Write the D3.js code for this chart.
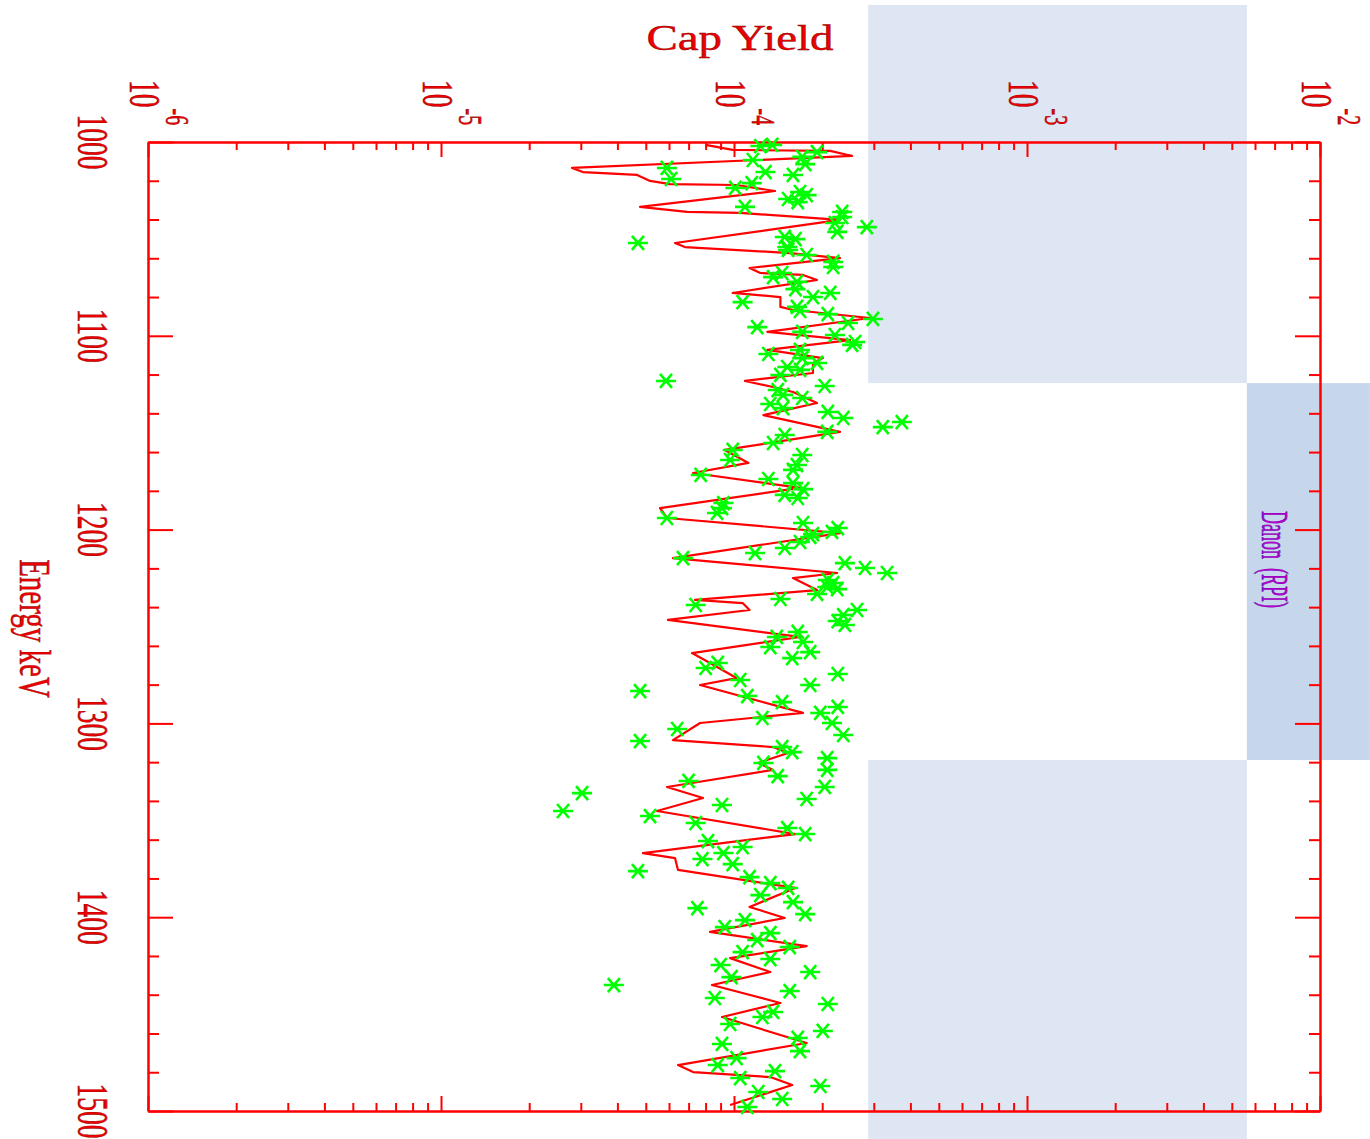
<!DOCTYPE html>
<html>
<head>
<meta charset="utf-8">
<script src="https://cdn.jsdelivr.net/npm/d3@7"></script>
<style>
  html, body { margin: 0; padding: 0; background: #ffffff; }
  svg { display: block; }
</style>
</head>
<body>
<svg id="chart" width="1370" height="1139"></svg>
<script>
// ---------------- data ----------------
const energyTicks = [1000, 1100, 1200, 1300, 1400, 1500];
const yieldTickExponents = [-6, -5, -4, -3, -2];

// Evaluated capture yield curve (red line)
const lineEnergy = [1001.5, 1004.1, 1004.6, 1007.2, 1013.4, 1015.5, 1017.0, 1020.1, 1021.7, 1022.2,
  1025.3, 1033.5, 1036.1, 1036.6, 1040.2, 1052.1, 1054.2, 1057.3, 1059.9, 1065.0,
  1067.6, 1068.6, 1071.2, 1077.9, 1080.0, 1085.1, 1086.7, 1090.8, 1098.0, 1102.2,
  1107.3, 1111.5, 1114.0, 1119.2, 1123.3, 1126.4, 1129.0, 1134.7, 1140.9, 1149.6,
  1158.9, 1165.6, 1170.8, 1178.5, 1188.9, 1194.0, 1201.8, 1214.7, 1222.4, 1225.0,
  1231.2, 1236.3, 1237.9, 1241.5, 1246.6, 1255.4, 1263.7, 1268.8, 1276.6, 1280.2,
  1294.6, 1299.8, 1308.6, 1312.2, 1315.3, 1320.4, 1324.0, 1332.8, 1338.5, 1345.2,
  1357.1, 1366.9, 1369.5, 1375.6, 1384.9, 1394.7, 1400.4, 1407.6, 1414.9, 1421.1,
  1428.3, 1435.0, 1444.3, 1451.5, 1464.9, 1476.3, 1479.9, 1482.5, 1486.6, 1496.9];
const lineYield = [0.80e-4, 0.99e-4, 2.13e-4, 2.53e-4, 0.280e-4, 0.305e-4, 0.467e-4, 0.517e-4, 0.605e-4, 1.02e-4,
  1.38e-4, 0.478e-4, 0.691e-4, 1.05e-4, 2.30e-4, 0.629e-4, 0.680e-4, 1.55e-4, 2.30e-4, 1.13e-4,
  1.23e-4, 1.72e-4, 1.92e-4, 0.99e-4, 1.44e-4, 1.44e-4, 1.59e-4, 2.91e-4, 1.30e-4, 2.49e-4,
  1.30e-4, 2.01e-4, 1.86e-4, 1.86e-4, 1.09e-4, 1.36e-4, 1.59e-4, 1.92e-4, 1.26e-4, 2.30e-4,
  0.93e-4, 1.12e-4, 0.725e-4, 1.68e-4, 0.559e-4, 0.591e-4, 2.30e-4, 0.619e-4, 2.25e-4, 1.59e-4,
  1.92e-4, 0.736e-4, 1.07e-4, 1.13e-4, 0.595e-4, 1.68e-4, 0.719e-4, 0.828e-4, 1.02e-4, 0.766e-4,
  1.72e-4, 0.766e-4, 0.619e-4, 1.36e-4, 1.53e-4, 1.21e-4, 1.36e-4, 0.591e-4, 0.784e-4, 0.546e-4,
  1.62e-4, 0.489e-4, 0.629e-4, 0.644e-4, 1.62e-4, 1.13e-4, 1.49e-4, 0.828e-4, 1.77e-4, 0.97e-4,
  1.33e-4, 0.841e-4, 1.44e-4, 0.91e-4, 1.77e-4, 0.644e-4, 0.725e-4, 1.33e-4, 1.58e-4, 0.97e-4];

// Measured points (green asterisks)
const pointEnergy = [1002.1, 1001.5, 1005.2, 1009.3, 1007.7, 1011.4, 1013.4, 1019.1, 1015.5, 1017.0,
  1021.2, 1023.7, 1025.8, 1029.4, 1027.4, 1031.0, 1033.5, 1036.1, 1038.7, 1041.8,
  1043.9, 1046.4, 1052.1, 1049.0, 1050.1, 1054.2, 1055.7, 1058.3, 1061.9, 1064.5,
  1067.6, 1069.7, 1072.2, 1075.9, 1077.9, 1080.0, 1082.6, 1085.1, 1087.2, 1088.8,
  1091.3, 1093.4, 1095.5, 1098.0, 1099.6, 1103.2, 1104.7, 1109.4, 1107.3, 1111.5,
  1114.0, 1116.1, 1117.6, 1120.2, 1123.3, 1125.9, 1128.0, 1130.5, 1132.1, 1135.2,
  1137.3, 1139.3, 1142.4, 1147.1, 1144.5, 1149.6, 1151.2, 1155.3, 1158.9, 1164.1,
  1161.5, 1166.7, 1169.2, 1171.8, 1173.9, 1176.0, 1179.1, 1182.1, 1183.7, 1186.3,
  1188.9, 1191.4, 1194.0, 1196.6, 1199.2, 1202.3, 1201.2, 1203.8, 1206.4, 1209.5,
  1212.1, 1214.7, 1217.3, 1219.8, 1222.4, 1226.0, 1227.6, 1229.6, 1230.7, 1233.2,
  1235.8, 1238.9, 1241.5, 1244.1, 1247.2, 1249.2, 1252.8, 1255.4, 1258.0, 1260.6,
  1263.2, 1266.3, 1268.8, 1271.4, 1277.6, 1274.5, 1280.2, 1283.3, 1285.9, 1289.0,
  1294.6, 1291.5, 1299.8, 1297.2, 1302.9, 1309.1, 1306.0, 1312.2, 1314.8, 1320.4,
  1317.9, 1324.0, 1327.2, 1329.7, 1332.8, 1339.0, 1336.0, 1345.2, 1342.1, 1347.8,
  1351.4, 1354.0, 1357.1, 1360.7, 1363.8, 1366.9, 1370.0, 1372.6, 1376.2, 1379.3,
  1382.4, 1384.9, 1388.6, 1392.2, 1395.3, 1398.4, 1401.5, 1405.1, 1408.2, 1411.8,
  1415.4, 1418.0, 1421.6, 1424.7, 1428.3, 1430.9, 1435.0, 1438.1, 1441.7, 1444.8,
  1448.9, 1451.5, 1455.1, 1458.7, 1462.3, 1465.4, 1469.1, 1472.7, 1476.3, 1479.4,
  1483.0, 1487.1, 1490.2, 1493.8, 1497.9];
const pointYield = [1.23e-4, 1.35e-4, 1.92e-4, 1.16e-4, 1.71e-4, 1.75e-4, 0.59e-4, 0.61e-4, 1.28e-4, 1.59e-4,
  1.15e-4, 1.01e-4, 1.68e-4, 1.53e-4, 1.77e-4, 1.65e-4, 1.09e-4, 2.34e-4, 2.34e-4, 2.21e-4,
  2.84e-4, 2.25e-4, 0.47e-4, 1.49e-4, 1.62e-4, 1.52e-4, 1.53e-4, 1.77e-4, 2.18e-4, 2.18e-4,
  1.46e-4, 1.36e-4, 1.64e-4, 1.62e-4, 2.13e-4, 1.86e-4, 1.07e-4, 1.64e-4, 1.68e-4, 2.09e-4,
  2.98e-4, 2.45e-4, 1.20e-4, 1.71e-4, 2.21e-4, 2.59e-4, 2.53e-4, 1.31e-4, 1.68e-4, 1.71e-4,
  1.92e-4, 1.52e-4, 1.68e-4, 1.44e-4, 0.586e-4, 2.04e-4, 1.41e-4, 1.47e-4, 1.71e-4, 1.33e-4,
  1.47e-4, 2.09e-4, 2.36e-4, 3.22e-4, 3.74e-4, 2.08e-4, 1.49e-4, 1.36e-4, 0.99e-4, 0.97e-4,
  1.71e-4, 1.64e-4, 1.59e-4, 0.77e-4, 1.31e-4, 1.59e-4, 1.72e-4, 1.49e-4, 1.65e-4, 0.92e-4,
  0.91e-4, 0.875e-4, 0.59e-4, 1.72e-4, 2.26e-4, 1.86e-4, 2.16e-4, 1.82e-4, 1.68e-4, 1.49e-4,
  1.18e-4, 0.67e-4, 2.39e-4, 2.80e-4, 3.33e-4, 2.09e-4, 2.18e-4, 2.08e-4, 2.25e-4, 1.92e-4,
  1.44e-4, 0.74e-4, 2.63e-4, 2.36e-4, 2.26e-4, 2.39e-4, 1.65e-4, 1.40e-4, 1.72e-4, 1.33e-4,
  1.82e-4, 1.58e-4, 0.88e-4, 0.80e-4, 1.05e-4, 2.26e-4, 1.82e-4, 0.478e-4, 1.11e-4, 1.46e-4,
  1.97e-4, 2.26e-4, 2.16e-4, 1.25e-4, 0.64e-4, 0.478e-4, 2.36e-4, 1.46e-4, 1.58e-4, 1.26e-4,
  2.08e-4, 2.08e-4, 1.41e-4, 0.70e-4, 2.04e-4, 1.77e-4, 0.303e-4, 0.261e-4, 0.91e-4, 0.517e-4,
  0.74e-4, 1.52e-4, 1.75e-4, 0.815e-4, 1.07e-4, 0.92e-4, 0.78e-4, 0.99e-4, 0.47e-4, 1.13e-4,
  1.33e-4, 1.53e-4, 1.23e-4, 1.59e-4, 0.75e-4, 1.75e-4, 1.09e-4, 0.93e-4, 1.33e-4, 1.20e-4,
  1.55e-4, 1.07e-4, 1.33e-4, 0.90e-4, 1.82e-4, 0.98e-4, 0.389e-4, 1.55e-4, 0.86e-4, 2.09e-4,
  1.36e-4, 1.25e-4, 0.97e-4, 2.01e-4, 1.65e-4, 0.91e-4, 1.68e-4, 1.02e-4, 0.88e-4, 1.38e-4,
  1.05e-4, 1.97e-4, 1.21e-4, 1.46e-4, 1.11e-4];

// Shaded bands
const bandYieldMin = [2.87e-4, 2.87e-4, 5.63e-3];
const bandYieldMax = [5.63e-3, 5.63e-3, 1.48e-2];
const bandEnergyMin = [929.3, 1318.9, 1124.4];
const bandEnergyMax = [1124.4, 1514.4, 1318.9];
const bandColors = ["#dde6f2", "#dde6f2", "#c7d7eb"];
const bandLabel = "Danon  (RPI)";

// ---------------- drawing ----------------
const svg = d3.select("#chart");
const M = { l: 148, r: 1320, t: 142, b: 1111 };
const x = d3.scaleLog().domain([1e-6, 1e-2]).range([M.l, M.r]);
const y = d3.scaleLinear().domain([1000, 1500]).range([M.t, M.b]);
const RED = "#ff0000";
const FONT = "'Liberation Serif', 'DejaVu Serif', serif";

// bands
svg.append("g").selectAll("rect").data(bandColors).join("rect")
  .attr("x", (d, i) => x(bandYieldMin[i]))
  .attr("y", (d, i) => y(bandEnergyMin[i]))
  .attr("width", (d, i) => x(bandYieldMax[i]) - x(bandYieldMin[i]))
  .attr("height", (d, i) => y(bandEnergyMax[i]) - y(bandEnergyMin[i]))
  .attr("fill", d => d);

// band label
svg.append("g")
  .attr("transform", `translate(${x(5.63e-3) + 15},${y((1124.4 + 1318.9) / 2) - 12}) scale(2.1,1) rotate(90)`)
  .append("text")
  .attr("text-anchor", "middle")
  .attr("font-family", FONT)
  .attr("font-size", 18)
  .attr("fill", "#c000d0")
  .attr("stroke", "#4000a0").attr("stroke-width", 0.25)
  .attr("xml:space", "preserve")
  .style("white-space", "pre")
  .text(bandLabel);

// axes
const majorsY = d3.range(1000, 1501, 100);
const minorsY = d3.range(1000, 1501, 20).filter(v => v % 100 !== 0);
const majorsX = yieldTickExponents.map(e => Math.pow(10, e));
const minorsX = [];
for (let e = -6; e < -2; e++) for (let m = 2; m <= 9; m++) minorsX.push(m * Math.pow(10, e));

function styleAxis(g) {
  g.selectAll("path.domain").attr("stroke", RED).attr("stroke-width", 2);
  g.selectAll(".tick line").attr("stroke", RED).attr("stroke-width", 2);
  g.selectAll(".tick text").remove();
}
function addAxis(axisFn, scale, values, size, tx, ty) {
  svg.append("g").attr("transform", `translate(${tx},${ty})`)
    .call(axisFn(scale).tickValues(values).tickSize(size).tickSizeOuter(0).tickFormat(""))
    .call(styleAxis);
}
addAxis(d3.axisTop, x, majorsX, -15, 0, M.t);
addAxis(d3.axisTop, x, minorsX, -8, 0, M.t);
addAxis(d3.axisBottom, x, majorsX, -15, 0, M.b);
addAxis(d3.axisBottom, x, minorsX, -8, 0, M.b);
addAxis(d3.axisLeft, y, majorsY, -25, M.l, 0);
addAxis(d3.axisLeft, y, minorsY, -11, M.l, 0);
addAxis(d3.axisRight, y, majorsY, -25, M.r, 0);
addAxis(d3.axisRight, y, minorsY, -11, M.r, 0);

// energy tick labels (rotated)
svg.append("g").selectAll("g").data(energyTicks).join("g")
  .attr("transform", d => `translate(78,${y(d)}) scale(1.6,1) rotate(90)`)
  .append("text")
  .attr("text-anchor", "middle")
  .attr("font-family", FONT)
  .attr("font-size", 27.5)
  .attr("fill", "#ee0000")
  .attr("stroke", "#800000").attr("stroke-width", 0.3)
  .text(d => d);

// yield tick labels (rotated, 10^n)
const yl = svg.append("g").selectAll("g").data(yieldTickExponents).join("g")
  .attr("transform", d => `translate(${x(Math.pow(10, d)) - 18},80) scale(1.65,1) rotate(90)`)
  .append("text")
  .attr("font-family", FONT)
  .attr("fill", "#ee0000")
  .attr("stroke", "#800000").attr("stroke-width", 0.3);
yl.append("tspan").attr("font-size", 27.5).text("10");
yl.append("tspan").attr("font-size", 20).attr("dx", 1).attr("dy", -22).text(d => "-" + Math.abs(d));

// axis titles
svg.append("g")
  .attr("transform", `translate(20,${(M.t + M.b) / 2 + 2}) scale(1.56,1) rotate(90)`)
  .append("text")
  .attr("text-anchor", "middle")
  .attr("font-family", FONT)
  .attr("font-size", 29)
  .attr("fill", "#ee0000")
  .attr("stroke", "#800000").attr("stroke-width", 0.3)
  .text("Energy keV");

svg.append("g")
  .attr("transform", `translate(740,50) scale(1.34,1)`)
  .append("text")
  .attr("text-anchor", "middle")
  .attr("font-family", FONT)
  .attr("font-size", 35)
  .attr("fill", "#ee0000")
  .attr("stroke", "#800000").attr("stroke-width", 0.4)
  .text("Cap Yield");

// red curve
const lineData = lineEnergy.map((e, i) => [lineYield[i], e]);
svg.append("path")
  .datum(lineData)
  .attr("fill", "none")
  .attr("stroke", RED)
  .attr("stroke-width", 2.2)
  .attr("stroke-linejoin", "round")
  .attr("d", d3.line().x(d => x(d[0])).y(d => y(d[1])));

// green asterisks
const star = "M-10,0H10M-6,-7L6,7M-6,7L6,-7";
svg.append("g").selectAll("path").data(pointEnergy).join("path")
  .attr("transform", (d, i) => `translate(${x(pointYield[i])},${y(d)})`)
  .attr("d", star)
  .attr("fill", "none")
  .attr("stroke", "#00ff00")
  .attr("stroke-width", 2.6);
</script>
</body>
</html>
